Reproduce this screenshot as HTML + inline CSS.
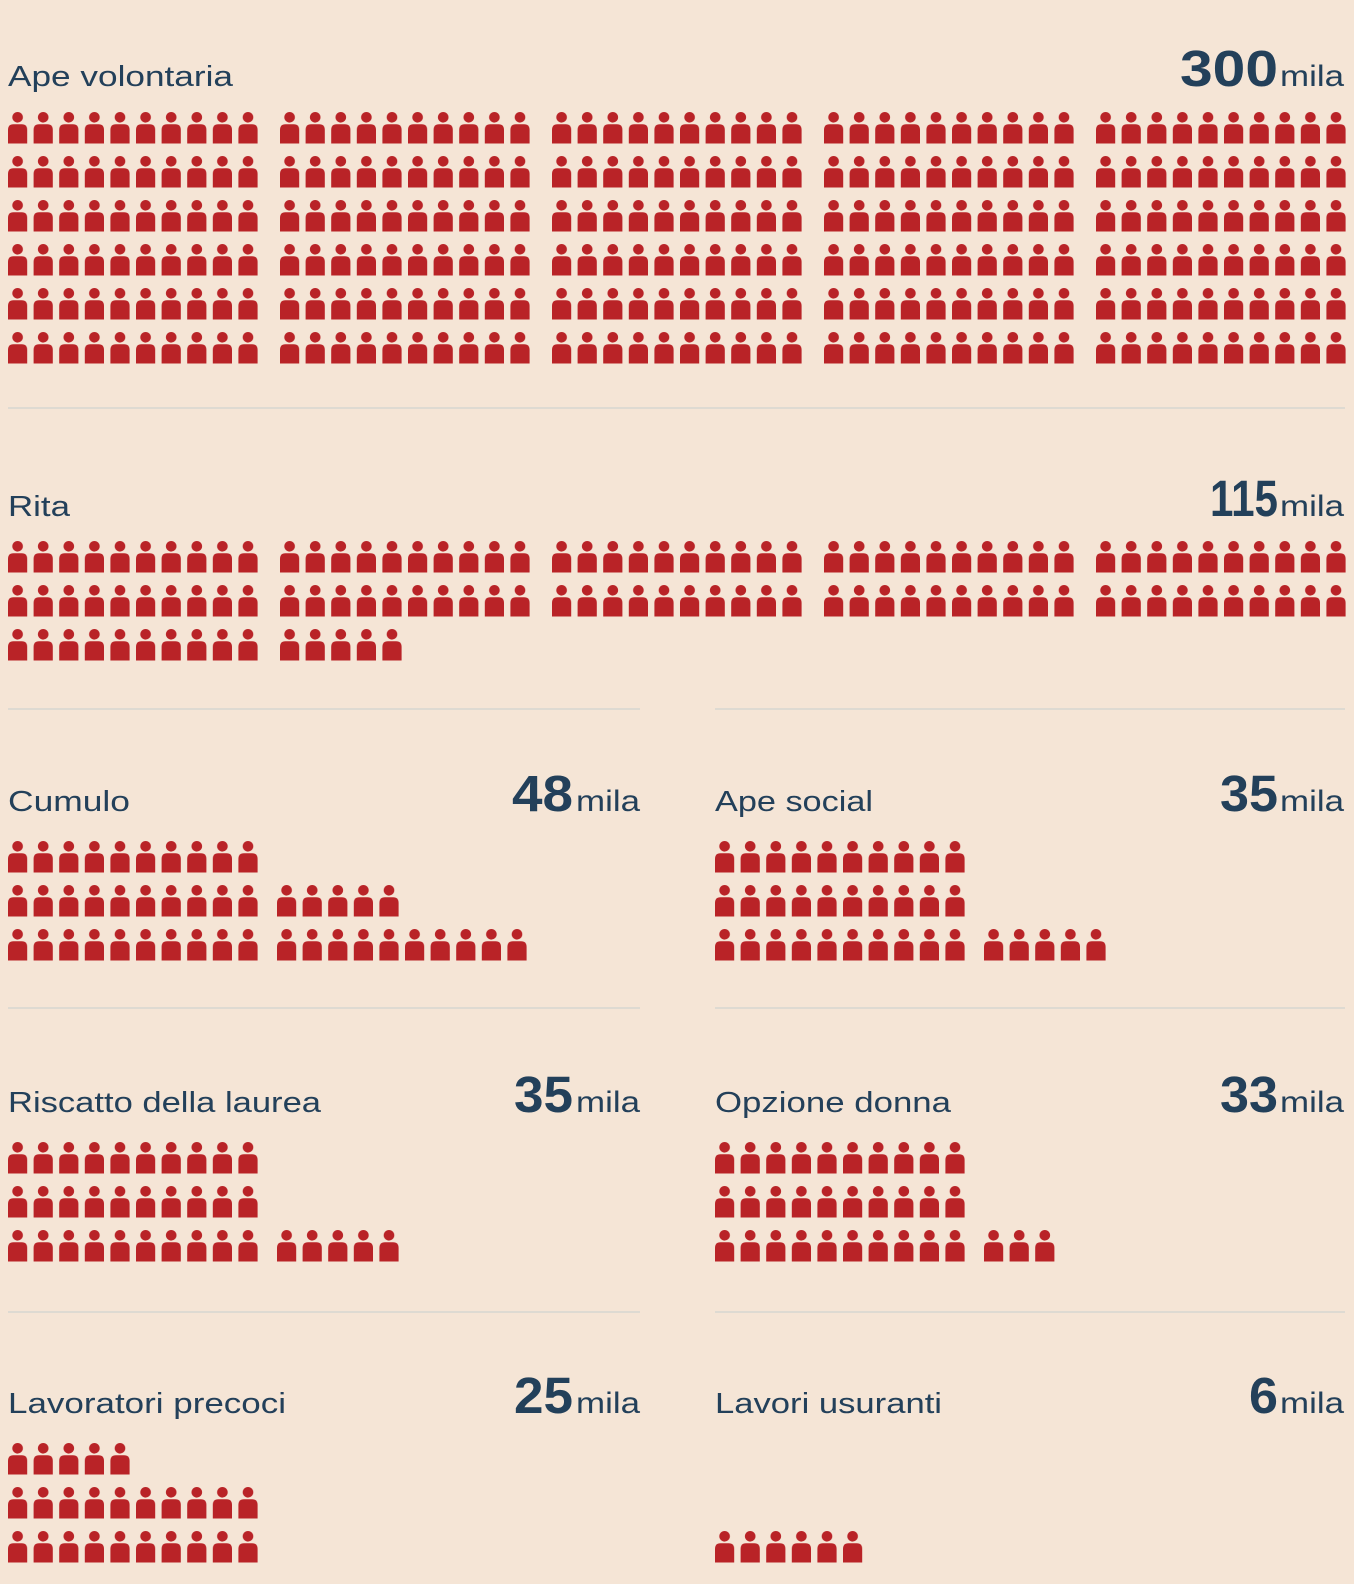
<!DOCTYPE html>
<html><head><meta charset="utf-8"><style>
html,body{margin:0;padding:0;background:#f5e5d6;}
svg{display:block}
text{font-family:"Liberation Sans",sans-serif;fill:#23405a}
.l{font-size:29px}
.n{font-size:51px;font-weight:bold}
.m{font-size:30px}
</style></head><body>
<svg width="1354" height="1584" viewBox="0 0 1354 1584" xmlns="http://www.w3.org/2000/svg">
<defs>
<pattern id="p" patternUnits="userSpaceOnUse" width="25.6" height="44">
<circle cx="9.6" cy="5.3" r="5.3" fill="#b92327"/>
<path d="M0 18 Q0 12.3 5.5 12.3 L13.7 12.3 Q19.2 12.3 19.2 18 L19.2 31.5 L0 31.5 Z" fill="#b92327"/>
</pattern>
</defs>
<rect width="1354" height="1584" fill="#f5e5d6"/>
<g stroke="#dedad2" stroke-width="2">
<line x1="8" y1="408" x2="1345" y2="408"/>
<line x1="8" y1="709" x2="640" y2="709"/><line x1="715" y1="709" x2="1345" y2="709"/>
<line x1="8" y1="1008" x2="640" y2="1008"/><line x1="715" y1="1008" x2="1345" y2="1008"/>
<line x1="8" y1="1312" x2="640" y2="1312"/><line x1="715" y1="1312" x2="1345" y2="1312"/>
</g>
<!-- Ape volontaria -->
<text class="l" x="8" y="86" textLength="225" lengthAdjust="spacingAndGlyphs">Ape volontaria</text>
<text class="n" x="1180" y="86" textLength="98" lengthAdjust="spacingAndGlyphs">300</text>
<text class="m" x="1280" y="86" textLength="64" lengthAdjust="spacingAndGlyphs">mila</text>
<g transform="translate(8,112)"><rect width="256" height="264" fill="url(#p)"/></g>
<g transform="translate(280,112)"><rect width="256" height="264" fill="url(#p)"/></g>
<g transform="translate(552,112)"><rect width="256" height="264" fill="url(#p)"/></g>
<g transform="translate(824,112)"><rect width="256" height="264" fill="url(#p)"/></g>
<g transform="translate(1096,112)"><rect width="256" height="264" fill="url(#p)"/></g>
<!-- Rita -->
<text class="l" x="8" y="516" textLength="62" lengthAdjust="spacingAndGlyphs">Rita</text>
<text class="n" x="1210" y="516" textLength="68" lengthAdjust="spacingAndGlyphs">115</text>
<text class="m" x="1280" y="516" textLength="64" lengthAdjust="spacingAndGlyphs">mila</text>
<g transform="translate(8,541)"><rect width="256" height="132" fill="url(#p)"/></g>
<g transform="translate(280,541)"><rect width="256" height="88" fill="url(#p)"/></g>
<g transform="translate(280,629)"><rect width="128" height="44" fill="url(#p)"/></g>
<g transform="translate(552,541)"><rect width="256" height="88" fill="url(#p)"/></g>
<g transform="translate(824,541)"><rect width="256" height="88" fill="url(#p)"/></g>
<g transform="translate(1096,541)"><rect width="256" height="88" fill="url(#p)"/></g>
<!-- Cumulo -->
<text class="l" x="8" y="811" textLength="122" lengthAdjust="spacingAndGlyphs">Cumulo</text>
<text class="n" x="512" y="811" textLength="61" lengthAdjust="spacingAndGlyphs">48</text>
<text class="m" x="576" y="811" textLength="64" lengthAdjust="spacingAndGlyphs">mila</text>
<g transform="translate(8,841)"><rect width="256" height="132" fill="url(#p)"/></g>
<g transform="translate(277,885)"><rect width="128" height="44" fill="url(#p)"/></g>
<g transform="translate(277,929)"><rect width="256" height="44" fill="url(#p)"/></g>
<!-- Ape social -->
<text class="l" x="715" y="811" textLength="158" lengthAdjust="spacingAndGlyphs">Ape social</text>
<text class="n" x="1220" y="811" textLength="58" lengthAdjust="spacingAndGlyphs">35</text>
<text class="m" x="1280" y="811" textLength="64" lengthAdjust="spacingAndGlyphs">mila</text>
<g transform="translate(715,841)"><rect width="256" height="132" fill="url(#p)"/></g>
<g transform="translate(984,929)"><rect width="128" height="44" fill="url(#p)"/></g>
<!-- Riscatto -->
<text class="l" x="8" y="1112" textLength="313" lengthAdjust="spacingAndGlyphs">Riscatto della laurea</text>
<text class="n" x="514" y="1112" textLength="59" lengthAdjust="spacingAndGlyphs">35</text>
<text class="m" x="576" y="1112" textLength="64" lengthAdjust="spacingAndGlyphs">mila</text>
<g transform="translate(8,1142)"><rect width="256" height="132" fill="url(#p)"/></g>
<g transform="translate(277,1230)"><rect width="128" height="44" fill="url(#p)"/></g>
<!-- Opzione donna -->
<text class="l" x="715" y="1112" textLength="236" lengthAdjust="spacingAndGlyphs">Opzione donna</text>
<text class="n" x="1220" y="1112" textLength="58" lengthAdjust="spacingAndGlyphs">33</text>
<text class="m" x="1280" y="1112" textLength="64" lengthAdjust="spacingAndGlyphs">mila</text>
<g transform="translate(715,1142)"><rect width="256" height="132" fill="url(#p)"/></g>
<g transform="translate(984,1230)"><rect width="76" height="44" fill="url(#p)"/></g>
<!-- Lavoratori precoci -->
<text class="l" x="8" y="1413" textLength="278" lengthAdjust="spacingAndGlyphs">Lavoratori precoci</text>
<text class="n" x="514" y="1413" textLength="59" lengthAdjust="spacingAndGlyphs">25</text>
<text class="m" x="576" y="1413" textLength="64" lengthAdjust="spacingAndGlyphs">mila</text>
<g transform="translate(8,1443)"><rect width="128" height="44" fill="url(#p)"/></g>
<g transform="translate(8,1487)"><rect width="256" height="88" fill="url(#p)"/></g>
<!-- Lavori usuranti -->
<text class="l" x="715" y="1413" textLength="227" lengthAdjust="spacingAndGlyphs">Lavori usuranti</text>
<text class="n" x="1249" y="1413" textLength="29" lengthAdjust="spacingAndGlyphs">6</text>
<text class="m" x="1280" y="1413" textLength="64" lengthAdjust="spacingAndGlyphs">mila</text>
<g transform="translate(715,1531)"><rect width="153" height="44" fill="url(#p)"/></g>
</svg>
</body></html>
